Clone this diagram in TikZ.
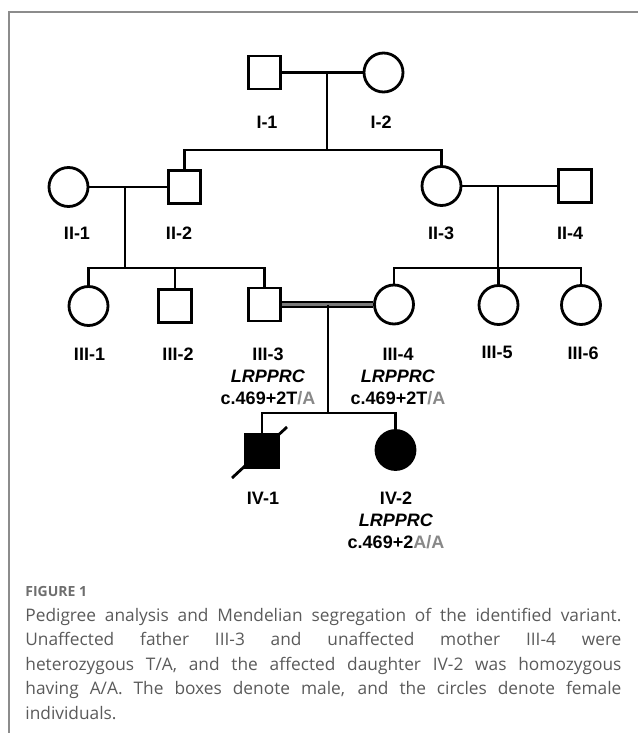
\documentclass[tikz,border=0pt]{standalone}
\usepackage{fontspec}
\setmainfont{Liberation Sans}
\newfontfamily\capfont{Open Sans}
\definecolor{allele}{HTML}{888888}
\definecolor{captext}{HTML}{5A5A5A}
\definecolor{capfig}{HTML}{6E6E6E}
\definecolor{frameline}{HTML}{8C8C8C}
\definecolor{consgray}{HTML}{7A7A7A}
\tikzset{
  male/.style={draw, line width=2.8pt, minimum width=32.5pt, minimum height=33pt, inner sep=0pt},
  female/.style={draw, circle, line width=2.8pt, minimum size=39pt, inner sep=0pt},
  affected/.style={fill=black},
  idlabel/.style={font=\bfseries\fontsize{18}{22}\selectfont, align=center, inner sep=0pt, anchor=base},
  consang/.style={line width=2pt, double=consgray, double distance=2.2pt}
}
\newcommand{\gene}{\textit{LRPPRC}}
\begin{document}
\begin{tikzpicture}[x=1pt, y=-1pt, line width=2.8pt]
\useasboundingbox (0,0) rectangle (638,733);
% frame of the figure
\draw[frameline, line width=1.5pt] (9,733) -- (9,12) -- (638,12);

% generation I
\node[male] (I1) at (264.5,72.5) {};
\node[female] (I2) at (383.5,72.5) {};
\coordinate (c1) at (327,72.5);
\coordinate (s1) at (327,150);

% generation II
\node[female] (II1) at (68.5,187) {};
\node[male] (II2) at (184.5,187) {};
\node[female] (II3) at (441.5,186) {};
\node[male] (II4) at (575,186) {};
\coordinate (c2) at (125,187);
\coordinate (s2) at (125,268);
\coordinate (c3) at (498,186);
\coordinate (s3) at (498,268);

% generation III
\node[female] (III1) at (88.5,306) {};
\node[male] (III2) at (175,306) {};
\node[male] (III3) at (264.5,304.5) {};
\node[female] (III4) at (394,304.5) {};
\node[female] (III5) at (498.5,305) {};
\node[female] (III6) at (581,305) {};
\coordinate (c4) at (328,304.5);
\coordinate (s4) at (328,413);

% generation IV
\node[male, affected] (IV1) at (262,451) {};
\node[female, affected] (IV2) at (395.5,450) {};
\coordinate (d1) at (232,478);
\coordinate (d2) at (287,427);

% lines
\draw (I1) -- (I2);
\draw (c1) -- (s1);
\draw (II2) |- (s1) -| (II3);
\draw (II1) -- (II2);
\draw (II3) -- (II4);
\draw (c2) -- (s2);
\draw (c3) -- (s3);
\draw (III1) |- (s2) -| (III3);
\draw (III2) -- (III2 |- s2);
\draw (III4) |- (s3) -| (III6);
\draw (III5) -- (III5 |- s3);
\draw[consang] (III3) -- (III4);
\draw (c4) -- (s4);
\draw (IV1) |- (s4) -| (IV2);
\draw (d1) -- (d2);

% labels (base = last line)
\node[idlabel] (lI1) at (267,128.5) {I-1};
\node[idlabel] (lI2) at (381,128.5) {I-2};
\node[idlabel] (lII1) at (77,239) {II-1};
\node[idlabel] (lII2) at (179,239) {II-2};
\node[idlabel] (lII3) at (441,239) {II-3};
\node[idlabel] (lII4) at (570,239) {II-4};
\node[idlabel] (lIII1) at (89.5,360.5) {III-1};
\node[idlabel] (lIII2) at (178,360.5) {III-2};
\node[idlabel] (lIII3) at (268,404.5) {III-3\\ \gene\\ c.469+2T\textcolor{allele}{/A}};
\node[idlabel] (lIII4) at (398,404.5) {III-4\\ \gene\\ c.469+2T\textcolor{allele}{/A}};
\node[idlabel] (lIII5) at (497,358.5) {III-5};
\node[idlabel] (lIII6) at (583,359.5) {III-6};
\node[idlabel] (lIV1) at (263,504) {IV-1};
\node[idlabel] (lIV2) at (396,548) {IV-2\\ \gene\\ c.469+2\textcolor{allele}{A/A}};

% caption
\node[anchor=base west, inner sep=0pt, text=capfig, font=\capfont\bfseries\fontsize{14}{16}\selectfont] (fig) at (24,596) {FIGURE 1};
\node[anchor=base west, inner sep=0pt, text=captext, align=left, font=\capfont\fontsize{17.3}{24.5}\selectfont] (caption) at (24,719) {%
\makebox[596pt][s]{Pedigree analysis and Mendelian segregation of the identified variant.}\\
\makebox[596pt][s]{Unaffected father III-3 and unaffected mother III-4 were}\\
\makebox[596pt][s]{heterozygous T/A, and the affected daughter IV-2 was homozygous}\\
\makebox[596pt][s]{having A/A. The boxes denote male, and the circles denote female}\\
individuals.};
\end{tikzpicture}
\end{document}
